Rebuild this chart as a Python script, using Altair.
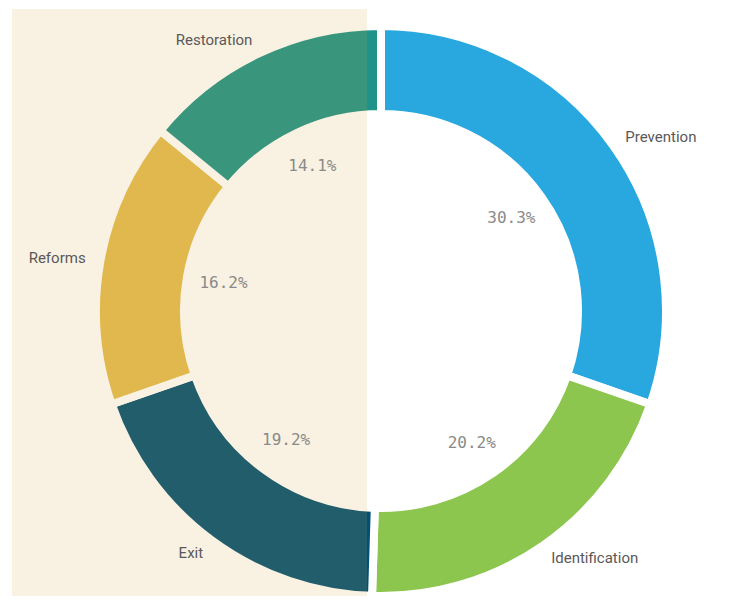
import altair as alt
import pandas as pd

categories = ["Prevention", "Identification", "Exit", "Reforms", "Restoration"]
shares = [30.3, 20.2, 19.2, 16.2, 14.1]
pct_labels = ["30.3%", "20.2%", "19.2%", "16.2%", "14.1%"]
colors = ["#29a8e0", "#8dc64f", "#025174", "#e2bb51", "#1e9389"]
right_side = ["Prevention", "Identification"]

df = pd.DataFrame({
    "cat": categories,
    "share": shares,
    "pct": pct_labels,
    "idx": list(range(len(categories))),
})

CX, CY = 373, 303

base = alt.Chart(df).encode(
    theta=alt.Theta("share:Q", stack=True),
    order=alt.Order("idx:Q"),
    x=alt.value(CX),
    y=alt.value(CY),
)

arcs = base.mark_arc(outerRadius=285, innerRadius=197, stroke="white", strokeWidth=8).encode(
    color=alt.Color("cat:N", scale=alt.Scale(domain=categories, range=colors), legend=None)
)

overlay = alt.Chart(pd.DataFrame({"a": [0]})).mark_rect(
    color="#d7a83e", opacity=0.15
).encode(
    x=alt.value(4), x2=alt.value(359), y=alt.value(1), y2=alt.value(592)
)

pct_text = base.mark_text(
    radius=160, font="DejaVu Sans Mono", fontSize=16, color="#8a8a8a"
).encode(text="pct:N")

is_right = alt.FieldOneOfPredicate(field="cat", oneOf=right_side)

cat_right = base.mark_text(
    radius=300, font="Roboto", fontSize=15, color="#595959", align="left"
).encode(
    text=alt.condition(is_right, "cat:N", alt.value(""))
)

cat_left = base.mark_text(
    radius=300, font="Roboto", fontSize=15, color="#595959", align="right"
).encode(
    text=alt.condition(is_right, alt.value(""), "cat:N")
)

chart = alt.layer(arcs, overlay, pct_text, cat_right, cat_left).properties(
    width=724, height=588, padding=0,
    autosize=alt.AutoSizeParams(type="none"),
).configure_view(stroke="transparent")

chart.save("out.html", embed_options={"renderer": "svg", "actions": False})
